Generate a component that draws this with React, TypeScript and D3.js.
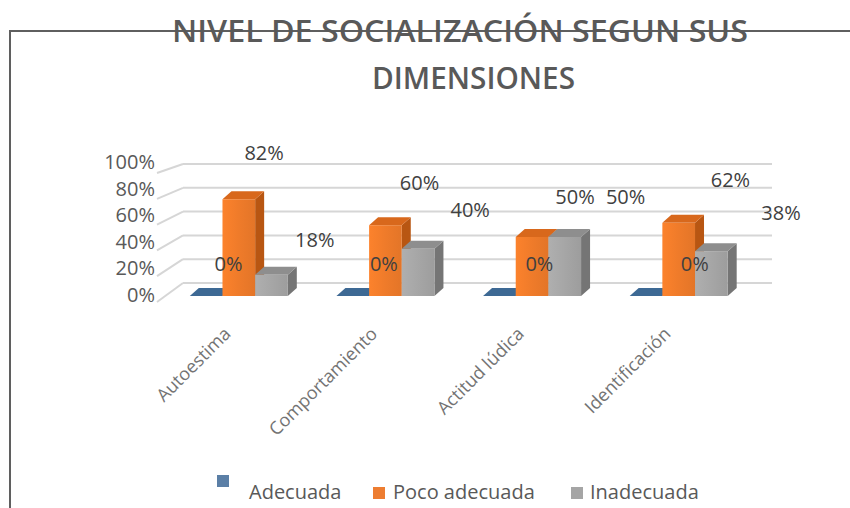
import React from 'react';
import * as d3 from 'd3';

const categories = ['Autoestima', 'Comportamiento', 'Actitud lúdica', 'Identificación'];
const seriesNames = ['Adecuada', 'Poco adecuada', 'Inadecuada'];
const adecuada = [0, 0, 0, 0];
const pocoAdecuada = [82, 60, 50, 62];
const inadecuada = [18, 40, 50, 38];
const yTicks = [0, 20, 40, 60, 80, 100];
const titleLines = ['NIVEL DE SOCIALIZACIÓN SEGUN SUS', 'DIMENSIONES'];

const seriesValues = [adecuada, pocoAdecuada, inadecuada];
const palette = [
  { front: '#41719c', top: '#3d6994', side: '#2f5377', legend: '#5b7fa6' },
  { front: '#ef7b2a', top: '#d8681c', side: '#b85612', legend: '#ed7d31' },
  { front: '#a6a6a6', top: '#8e8e8e', side: '#757575', legend: '#a5a5a5' },
];

const W = 850;
const H = 508;
const DX = 9;
const DY = 8;

export default function App() {
  const x = d3.scaleBand<string>().domain(categories).range([165.5, 752]).padding(0);
  const xs = d3.scaleBand<string>().domain(seriesNames).range([0, 98]).padding(0);
  const groupPad = (x.bandwidth() - 98) / 2;

  const yFront = d3.scaleLinear().domain([0, 100]).range([296, 178]);
  const yBack = d3.scaleLinear().domain([0, 100]).range([283, 164]);
  const ySide = d3.scaleLinear().domain([0, 100]).range([302, 173]);
  const yTickLabel = d3.scaleLinear().domain([0, 100]).range([295, 162]);
  const yLabel = d3.scaleLinear().domain([0, 100]).range([264, 129]);
  const labelOffset = [10, 11, 27];

  const wallLeft = 157;
  const backLeft = 183;
  const backRight = 772;

  const bars: React.ReactNode[] = [];
  const labels: React.ReactNode[] = [];
  categories.forEach((cat, i) => {
    seriesNames.forEach((s, si) => {
      const v = seriesValues[si][i];
      const c = palette[si];
      const x0 = (x(cat) as number) + groupPad + (xs(s) as number);
      const w = xs.bandwidth();
      const yb = yFront(0);
      const yt = yFront(v);
      const key = `${i}-${si}`;
      if (v > 0) {
        bars.push(
          <polygon
            key={key + 's'}
            points={`${x0 + w},${yt} ${x0 + w + DX},${yt - DY} ${x0 + w + DX},${yb - DY} ${x0 + w},${yb}`}
            fill={c.side}
          />
        );
      }
      bars.push(
        <polygon
          key={key + 't'}
          points={`${x0},${yt} ${x0 + w},${yt} ${x0 + w + DX},${yt - DY} ${x0 + DX},${yt - DY}`}
          fill={c.top}
        />
      );
      if (v > 0) {
        bars.push(
          <rect key={key + 'f'} x={x0} y={yt} width={w} height={yb - yt} fill={`url(#grad${si})`} />
        );
      }
      const cx = x0 + w / 2;
      labels.push(
        <text
          key={key + 'l'}
          x={cx * 1.06 + labelOffset[si]}
          y={yLabel(v)}
          dy="0.35em"
          textAnchor="middle"
          fontSize={20}
          fill="#404040"
        >
          {`${v}%`}
        </text>
      );
    });
  });

  const legendItems = [
    { sx: 217, sy: 475, tx: 249 },
    { sx: 373, sy: 487, tx: 393 },
    { sx: 571, sy: 487, tx: 590 },
  ];

  return (
    <svg
      width={W}
      height={H}
      style={{ position: 'absolute', left: 0, top: 0, background: '#fff' }}
      fontFamily="'Open Sans', sans-serif"
    >
      <defs>
        {palette.map((c, i) => (
          <linearGradient key={i} id={`grad${i}`} x1="0" x2="1" y1="0" y2="0">
            <stop offset="0" stopColor={d3.color(c.front)!.brighter(0.15).toString()} />
            <stop offset="0.5" stopColor={c.front} />
            <stop offset="1" stopColor={d3.color(c.front)!.darker(0.15).toString()} />
          </linearGradient>
        ))}
      </defs>
      <rect x={0} y={0} width={W} height={H} fill="#fff" />

      {/* frame */}
      <line x1={10} y1={31} x2={W} y2={31} stroke="#5f5f5f" strokeWidth={2} />
      <line x1={10} y1={30} x2={10} y2={H} stroke="#5f5f5f" strokeWidth={2} />

      {/* title */}
      <text x={172} y={42} fontSize={31} fontWeight={600} fill="#595959" textLength={576} lengthAdjust="spacingAndGlyphs">
        {titleLines[0]}
      </text>
      <text x={372} y={89} fontSize={31} fontWeight={600} fill="#595959" textLength={203} lengthAdjust="spacingAndGlyphs">
        {titleLines[1]}
      </text>

      {/* gridlines */}
      {yTicks.map((t) => (
        <g key={t}>
          <line x1={wallLeft} y1={ySide(t)} x2={backLeft} y2={yBack(t)} stroke="#d6d6d6" strokeWidth={2} />
          <line x1={backLeft} y1={yBack(t)} x2={backRight} y2={yBack(t)} stroke="#d6d6d6" strokeWidth={2} />
        </g>
      ))}

      {/* tick labels */}
      {yTicks.map((t) => (
        <text key={'tl' + t} x={155} y={yTickLabel(t)} dy="0.35em" textAnchor="end" fontSize={20} fill="#595959">
          {`${t}%`}
        </text>
      ))}

      {bars}
      {labels}

      {/* category labels */}
      {categories.map((cat) => {
        const cx = (x(cat) as number) + x.bandwidth() / 2 - 7;
        return (
          <text
            key={cat}
            transform={`translate(${cx},335) rotate(-45)`}
            textAnchor="end"
            fontSize={18}
            fill="#737373"
          >
            {cat}
          </text>
        );
      })}

      {/* legend */}
      {seriesNames.map((s, i) => (
        <g key={s}>
          <rect x={legendItems[i].sx} y={legendItems[i].sy} width={12} height={12} fill={palette[i].legend} />
          <text x={legendItems[i].tx} y={499} fontSize={20} fill="#595959">
            {s}
          </text>
        </g>
      ))}
    </svg>
  );
}
